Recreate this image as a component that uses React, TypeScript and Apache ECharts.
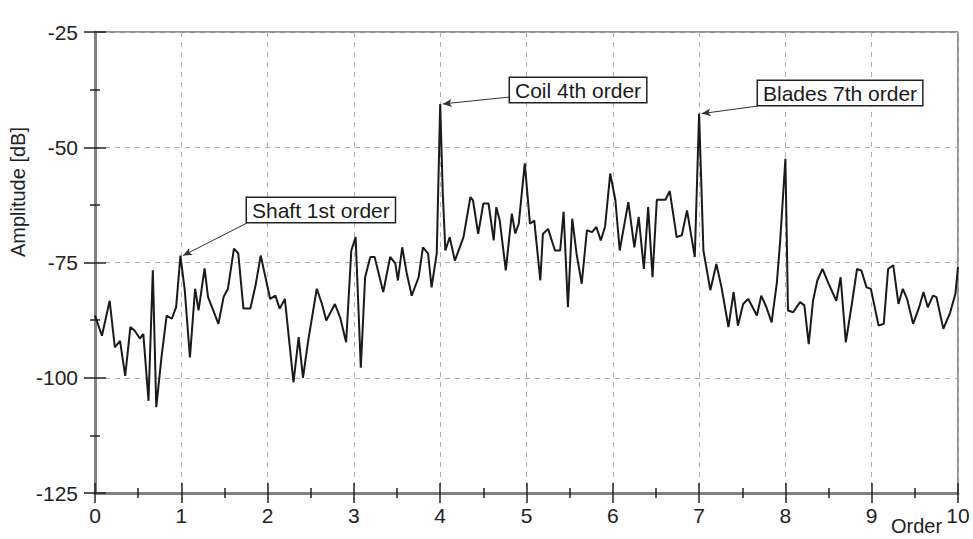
import React, { useEffect, useRef } from "react";
import * as echarts from "echarts";

const orders: number[] = [
  0.0, 0.08, 0.17, 0.23, 0.29, 0.35, 0.41, 0.46, 0.52, 0.56, 0.62, 0.67, 0.71, 0.77, 0.83, 0.89, 0.94, 0.99,
  1.04, 1.1, 1.16, 1.2, 1.27, 1.31, 1.37, 1.43, 1.49, 1.54, 1.61, 1.66, 1.72, 1.8, 1.86, 1.92,
  2.03, 2.09, 2.14, 2.2, 2.3, 2.36, 2.41, 2.47, 2.57, 2.63, 2.68, 2.78, 2.84, 2.91, 2.97,
  3.02, 3.08, 3.13, 3.19, 3.24, 3.34, 3.42, 3.48, 3.51, 3.56, 3.61, 3.67, 3.75, 3.8, 3.86, 3.9, 3.96,
  4.0, 4.03, 4.06, 4.11, 4.17, 4.27, 4.35, 4.38, 4.44, 4.5, 4.56, 4.62, 4.65, 4.69, 4.76, 4.83, 4.87, 4.91, 4.98,
  5.04, 5.09, 5.16, 5.19, 5.25, 5.33, 5.39, 5.43, 5.48, 5.53, 5.58, 5.64, 5.7, 5.76, 5.81, 5.86, 5.91, 5.97,
  6.03, 6.08, 6.18, 6.25, 6.3, 6.36, 6.41, 6.46, 6.51, 6.61, 6.66, 6.74, 6.8, 6.86, 6.95,
  7.0, 7.05, 7.13, 7.2, 7.26, 7.34, 7.4, 7.45, 7.51, 7.57, 7.67, 7.72, 7.78, 7.84, 7.9, 7.94,
  8.0, 8.03, 8.09, 8.17, 8.22, 8.27, 8.32, 8.37, 8.43, 8.5, 8.59, 8.64, 8.7, 8.77, 8.83, 8.88, 8.94, 8.99,
  9.08, 9.14, 9.19, 9.25, 9.31, 9.36, 9.41, 9.48, 9.55, 9.6, 9.65, 9.71, 9.75, 9.83, 9.91, 9.97, 10.0,
];

// Amplitude in dB at each order position
const amplitudes: number[] = [
  -86.5, -90.9, -83.3, -93.4, -92.0, -99.6, -89.0, -89.8, -91.5, -90.5, -105.0, -76.7, -106.4, -95.6, -86.5, -87.2, -84.7, -73.5,
  -81.0, -95.6, -80.7, -85.4, -76.3, -82.5, -85.4, -88.3, -82.5, -80.7, -72.0, -73.0, -85.0, -85.0, -80.0, -73.5,
  -82.9, -82.2, -85.0, -82.9, -101.0, -91.2, -100.0, -92.0, -80.7, -84.0, -87.6, -84.0, -86.9, -92.3, -72.4,
  -69.5, -97.8, -78.2, -73.8, -73.8, -81.4, -73.8, -75.2, -78.9, -71.7, -77.1, -82.2, -78.2, -71.7, -73.1, -80.4, -73.0,
  -40.6, -60.0, -72.4, -69.5, -74.6, -69.5, -60.8, -61.5, -68.8, -62.2, -62.2, -70.2, -63.0, -65.9, -76.7, -64.4, -68.7, -66.6, -53.5,
  -66.6, -65.9, -78.9, -68.8, -67.7, -72.4, -72.4, -64.0, -84.7, -65.5, -73.1, -79.6, -68.0, -68.4, -67.3, -70.2, -67.3, -55.7,
  -61.5, -72.4, -61.9, -71.7, -65.1, -76.4, -63.0, -78.2, -61.4, -61.4, -59.5, -69.5, -69.1, -63.7, -73.8,
  -42.7, -72.4, -81.0, -75.3, -80.4, -89.0, -81.4, -88.7, -84.0, -82.9, -86.5, -82.2, -84.7, -88.0, -79.6, -70.2,
  -52.5, -85.4, -85.8, -83.6, -84.3, -92.7, -83.3, -78.9, -76.4, -79.6, -83.3, -78.2, -92.3, -84.0, -76.4, -76.7, -80.4, -80.7,
  -88.7, -88.3, -76.4, -75.6, -84.0, -80.7, -82.9, -88.3, -84.7, -81.4, -84.7, -82.2, -82.5, -89.4, -85.8, -81.8, -76.0,
];

// Annotations: label text and the peak (order, dB) they point to
const annotationLabels: string[] = ["Shaft 1st order", "Coil 4th order", "Blades 7th order"];
const annotationOrders: number[] = [0.99, 4.0, 7.0];
const annotationValues: number[] = [-73.5, -40.6, -42.7];

// Axis ranges
const xMin = 0;
const xMax = 10;
const xStep = 1;
const yMin = -125;
const yMax = -25;
const yStep = 25;

const FONT = '"Liberation Sans", Arial, Helvetica, sans-serif';

export default function App() {
  const ref = useRef<HTMLDivElement>(null);

  useEffect(() => {
    document.body.style.margin = "0";
    if (!ref.current) return;
    const chart = echarts.init(ref.current, null, { renderer: "svg" });

    const data = orders.map((o, i) => [o, amplitudes[i]]);

    // box positions (layout only) for the annotation labels
    const boxPos = [
      { x: 247, y: 198 },
      { x: 510, y: 78 },
      { x: 758, y: 81 },
    ];
    const lineEnds = [
      { x: 247, y: 223 },
      { x: 510, y: 97 },
      { x: 758, y: 106 },
    ];

    const tickStyle = { color: "#222", width: 1.5 };

    const option: any = {
      animation: false,
      backgroundColor: "#ffffff",
      grid: {
        left: 95,
        right: 15,
        top: 32,
        bottom: 46,
        show: true,
        borderColor: "#222",
        borderWidth: 1,
        backgroundColor: "transparent",
      },
      xAxis: [
        {
          type: "value",
          min: xMin,
          max: xMax,
          interval: xStep,
          position: "bottom",
          axisLine: { show: true, lineStyle: { color: "#808080", width: 3 } },
          axisTick: { show: true, inside: false, length: 10, lineStyle: tickStyle },
          minorTick: { show: true, splitNumber: 2, length: 5, lineStyle: tickStyle },
          axisLabel: { color: "#222", fontSize: 21, fontFamily: FONT, margin: 12 },
          splitLine: { show: true, lineStyle: { type: [5, 5], color: "#b0b0b0", width: 1 } },
        },
        {
          type: "value",
          min: xMin,
          max: xMax,
          interval: xStep,
          position: "bottom",
          axisLine: { show: false },
          axisTick: { show: true, inside: true, length: 10, lineStyle: tickStyle },
          minorTick: { show: true, splitNumber: 2, length: 5, lineStyle: tickStyle },
          axisLabel: { show: false },
          splitLine: { show: false },
        },
      ],
      yAxis: [
        {
          type: "value",
          min: yMin,
          max: yMax,
          interval: yStep,
          position: "left",
          axisLine: { show: true, lineStyle: { color: "#808080", width: 3 } },
          axisTick: { show: true, inside: false, length: 11, lineStyle: tickStyle },
          minorTick: { show: true, splitNumber: 2, length: 5, lineStyle: tickStyle },
          axisLabel: { color: "#222", fontSize: 21, fontFamily: FONT, margin: 17 },
          splitLine: { show: true, lineStyle: { type: [5, 5], color: "#b0b0b0", width: 1 } },
        },
        {
          type: "value",
          min: yMin,
          max: yMax,
          interval: yStep,
          position: "left",
          axisLine: { show: false },
          axisTick: { show: true, inside: true, length: 11, lineStyle: tickStyle },
          minorTick: { show: true, splitNumber: 2, length: 5, lineStyle: tickStyle },
          axisLabel: { show: false },
          splitLine: { show: false },
        },
      ],
      series: [
        {
          type: "line",
          data,
          xAxisIndex: 0,
          yAxisIndex: 0,
          showSymbol: false,
          symbol: "none",
          lineStyle: { color: "#1a1a1a", width: 2 },
          z: 3,
          markLine: {
            silent: true,
            symbol: ["arrow", "none"],
            symbolSize: [6, 9],
            label: { show: false },
            lineStyle: { color: "#333", width: 1, type: "solid" },
            data: annotationOrders.map((o, i) => [
              { coord: [o + 0.03, annotationValues[i]] },
              { x: lineEnds[i].x, y: lineEnds[i].y },
            ]),
          },
        },
      ],
      graphic: [
        {
          type: "text",
          left: 8,
          top: 127,
          rotation: Math.PI / 2,
          originX: 0,
          originY: 0,
          style: {
            text: "Amplitude [dB]",
            fontSize: 20,
            fontFamily: FONT,
            fill: "#222",
          },
        },
        {
          type: "text",
          x: 891,
          y: 516,
          style: {
            text: "Order",
            fontSize: 20,
            fontFamily: FONT,
            fill: "#222",
          },
        },
        ...annotationLabels.map((t, i) => ({
          type: "text",
          x: boxPos[i].x,
          y: boxPos[i].y,
          z: 10,
          style: {
            text: t,
            fontSize: 21,
            fontFamily: FONT,
            fill: "#1a1a1a",
            backgroundColor: "#fff",
            borderColor: "#222",
            borderWidth: 1.5,
            padding: [2, 5, 1, 5],
          },
        })),
      ],
    };

    chart.setOption(option);
    return () => chart.dispose();
  }, []);

  return (
    <div
      ref={ref}
      style={{ position: "fixed", left: 0, top: 0, width: 973, height: 539 }}
    />
  );
}
